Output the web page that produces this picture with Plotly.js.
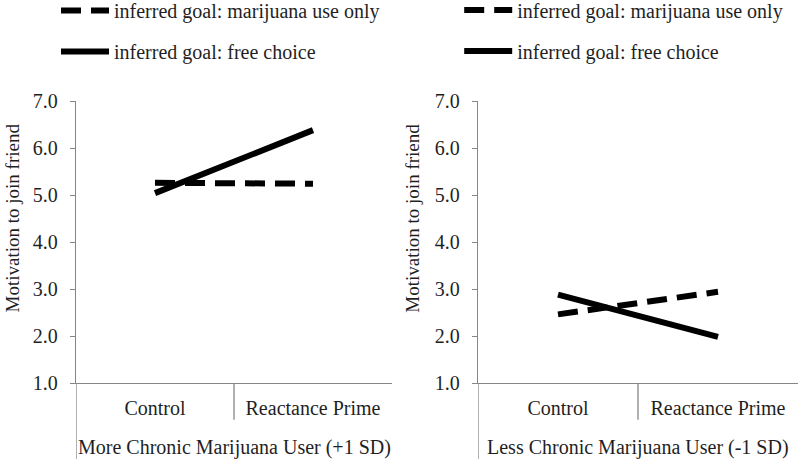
<!DOCTYPE html>
<html>
<head>
<meta charset="utf-8">
<script src="https://cdn.plot.ly/plotly-3.0.1.min.js"></script>
<style>
  html, body { margin: 0; padding: 0; background: #fff; }
  #chart { width: 800px; height: 459px; }
</style>
</head>
<body>
<div id="chart"></div>
<script>
// カテゴリとデータ
const conditions = ['Control', 'Reactance Prime'];
const seriesNames = ['inferred goal: marijuana use only', 'inferred goal: free choice'];

// More Chronic Marijuana User (+1 SD)
const moreUseOnly = [5.26, 5.24];
const moreFreeChoice = [5.04, 6.38];

// Less Chronic Marijuana User (-1 SD)
const lessUseOnly = [2.46, 2.94];
const lessFreeChoice = [2.88, 1.98];

const groupLabels = ['More Chronic Marijuana User (+1 SD)', 'Less Chronic Marijuana User (-1 SD)'];
const yTitle = 'Motivation to join friend';

const FONT = '"Liberation Serif", "Times New Roman", serif';
const FONT_SIZE = 20;
const TEXT_COLOR = '#1f1f1f';
const AXIS_COLOR = '#868686';

function makeTrace(y, name, dashed, xa, ya, legend) {
    return {
        x: conditions,
        y: y,
        type: 'scatter',
        mode: 'lines',
        name: name,
        legend: legend,
        legendgroup: legend + name,
        xaxis: xa,
        yaxis: ya,
        line: { color: '#000', width: 6, dash: dashed ? '20px,10px' : 'solid' }
    };
}

const traces = [
    makeTrace(moreUseOnly, seriesNames[0], true, 'x', 'y', 'legend'),
    makeTrace(moreFreeChoice, seriesNames[1], false, 'x', 'y', 'legend'),
    makeTrace(lessUseOnly, seriesNames[0], true, 'x2', 'y2', 'legend2'),
    makeTrace(lessFreeChoice, seriesNames[1], false, 'x2', 'y2', 'legend2')
];

function xAxis(domain, anchor) {
    return {
        domain: domain,
        anchor: anchor,
        type: 'category',
        range: [-0.5, 1.5],
        showline: true,
        linecolor: AXIS_COLOR,
        linewidth: 1.3,
        showgrid: false,
        zeroline: false,
        ticks: '',
        ticklabelstandoff: 7,
        tickfont: { family: FONT, size: FONT_SIZE, color: TEXT_COLOR },
        fixedrange: true
    };
}

function yAxis(anchor) {
    return {
        anchor: anchor,
        domain: [0, 1],
        range: [1, 7],
        dtick: 1,
        tick0: 1,
        tickformat: '.1f',
        showline: true,
        linecolor: AXIS_COLOR,
        linewidth: 1.3,
        ticks: 'outside',
        ticklen: 5,
        tickcolor: AXIS_COLOR,
        ticklabelstandoff: 8,
        showgrid: false,
        zeroline: false,
        tickfont: { family: FONT, size: FONT_SIZE, color: TEXT_COLOR },
        fixedrange: true
    };
}

const legendBase = {
    orientation: 'v',
    xanchor: 'left',
    yanchor: 'top',
    traceorder: 'grouped',
    tracegroupgap: 12,
    bgcolor: 'rgba(0,0,0,0)',
    font: { family: FONT, size: FONT_SIZE, color: TEXT_COLOR },
    itemwidth: 48
};

// 軸の区切り線（カテゴリ軸の枠）
const shapes = [];
['x', 'x2'].forEach(xr => {
    shapes.push({ type: 'line', xref: xr, yref: 'paper', x0: -0.5, x1: -0.5, y0: 0, y1: -0.28,
        line: { color: AXIS_COLOR, width: 1.3 } });
    shapes.push({ type: 'line', xref: xr, yref: 'paper', x0: 0.5, x1: 0.5, y0: 0, y1: -0.13,
        line: { color: AXIS_COLOR, width: 1.3 } });
});

const annotations = [
    { text: groupLabels[0], xref: 'x domain', x: 0.5, yref: 'paper', y: -0.227 },
    { text: groupLabels[1], xref: 'x2 domain', x: 0.5, yref: 'paper', y: -0.227 },
    { text: yTitle, xref: 'paper', x: 0.0155, yref: 'paper', y: 0.585, textangle: -90, font: { size: 19 } },
    { text: yTitle, xref: 'paper', x: 0.5145, yref: 'paper', y: 0.585, textangle: -90, font: { size: 19 } }
].map(a => Object.assign({
    showarrow: false,
    xanchor: 'center',
    yanchor: 'middle'
}, a, { font: Object.assign({ family: FONT, size: FONT_SIZE, color: TEXT_COLOR }, a.font || {}) }));

const layout = {
    width: 800,
    height: 459,
    margin: { l: 0, r: 0, t: 101, b: 76, autoexpand: false },
    font: { family: FONT, size: FONT_SIZE, color: TEXT_COLOR },
    paper_bgcolor: '#fff',
    plot_bgcolor: '#fff',
    showlegend: true,
    xaxis: xAxis([0.095, 0.49], 'y'),
    yaxis: yAxis('x'),
    xaxis2: xAxis([0.5975, 0.9975], 'y2'),
    yaxis2: yAxis('x2'),
    legend: Object.assign({}, legendBase, { x: 0.07, y: 1.39 }),
    legend2: Object.assign({}, legendBase, { x: 0.574, y: 1.392 }),
    shapes: shapes,
    annotations: annotations
};

Plotly.newPlot('chart', traces, layout, { displayModeBar: false, staticPlot: true });
</script>
</body>
</html>
